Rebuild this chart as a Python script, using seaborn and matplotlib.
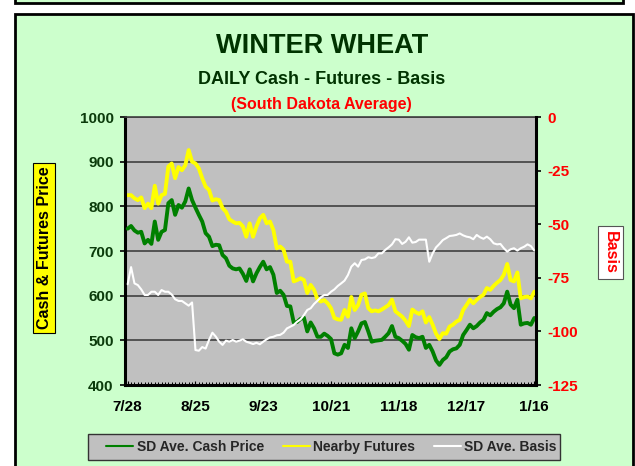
import numpy as np
import pandas as pd
import seaborn as sns
import matplotlib.pyplot as plt
from matplotlib.patches import Rectangle
from matplotlib.ticker import MultipleLocator

# Daily values (7/28 .. 1/16, trading days)
date_labels = ['7/28', '8/25', '9/23', '10/21', '11/18', '12/17', '1/16']

cash_price = [
    750, 756, 746, 741, 743, 717, 725, 716, 766, 725,
    743, 747, 807, 814, 781, 803, 797, 811, 840, 814,
    797, 781, 766, 740, 732, 711, 714, 713, 691, 684,
    667, 661, 659, 661, 649, 633, 659, 632, 650, 664,
    676, 659, 664, 647, 606, 611, 602, 577, 576, 540,
    541, 548, 551, 520, 540, 527, 508, 508, 515, 510,
    503, 471, 468, 471, 490, 483, 527, 505, 520, 538,
    541, 520, 497, 499, 500, 501, 508, 516, 532, 508,
    505, 499, 492, 479, 512, 507, 505, 508, 483, 490,
    475, 455, 445, 456, 462, 475, 480, 482, 490, 512,
    523, 535, 527, 532, 540, 546, 561, 556, 564, 570,
    574, 583, 609, 580, 572, 591, 535, 538, 539, 535,
    550,
]

nearby_futures = [
    825, 825, 818, 814, 820, 796, 806, 796, 846, 806,
    825, 828, 889, 896, 863, 888, 881, 892, 926, 900,
    896, 885, 863, 844, 837, 813, 816, 814, 796, 788,
    771, 766, 762, 763, 755, 732, 762, 732, 755, 773,
    781, 762, 766, 747, 706, 710, 703, 676, 676, 632,
    635, 639, 635, 606, 624, 613, 592, 587, 590, 583,
    572, 550, 547, 546, 568, 553, 597, 568, 579, 602,
    605, 572, 565, 567, 565, 569, 574, 579, 591, 565,
    559, 553, 544, 532, 569, 563, 559, 565, 540, 552,
    535, 515, 503, 516, 515, 531, 535, 542, 546, 568,
    579, 591, 583, 591, 597, 602, 617, 613, 622, 629,
    635, 647, 671, 635, 632, 652, 594, 597, 598, 594,
    609,
]

sd_basis = [
    -78, -70, -77.6, -78.4, -80.4, -83, -83, -81.5, -81.5, -83,
    -80.7, -81.5, -81.5, -82.8, -85, -85.8, -85.8, -86.9, -88, -86.5,
    -108.7, -109, -107.3, -108, -104, -100.6, -102.4, -104.8, -106.3, -104.3,
    -104.8, -104, -104.8, -104.3, -103.7, -104.8, -105.3, -105.9, -105.3, -106,
    -104.8, -103.7, -102.8, -102.5, -101.8, -101.6, -100.6, -98.6, -97.8, -97,
    -95.5, -94.4, -92.4, -90, -89.2, -87.2, -85.7, -84.1, -83, -83,
    -81.5, -80.4, -78.8, -77.6, -76.3, -73.7, -69.8, -68.2, -69.8, -66.7,
    -66.4, -65.4, -65.8, -65.4, -63.6, -63.6, -62, -60.8, -59.4, -57,
    -57.2, -59.2, -58.2, -56.1, -58.6, -58.3, -57.2, -57.2, -57.2, -67.5,
    -63.6, -60.8, -59.2, -57.4, -56.5, -55.5, -55.3, -55, -54.3, -55.2,
    -55.8, -56.1, -57, -55, -56.1, -56.8, -55.8, -57, -58.9, -59.4,
    -59.2, -61.2, -62.8, -61.7, -61.2, -62.3, -61.2, -60.5, -59.4, -60.2,
    -62.3,
]

df = pd.DataFrame({
    'day': np.arange(len(cash_price)),
    'cash': cash_price,
    'futures': nearby_futures,
    'basis': sd_basis,
})

sns.set_style('ticks')
plt.rcParams['font.family'] = ['Liberation Sans', 'DejaVu Sans']
plt.rcParams['font.weight'] = 'bold'
plt.rcParams['axes.unicode_minus'] = False

dark_green = '#0B3B0B'

fig = plt.figure(figsize=(6.35, 4.66), dpi=100)
fig.patch.set_facecolor('white')

# outer chart boxes (Excel chart area look)
fig.add_artist(Rectangle((0.0236, 0.9925), 0.9575, 0.05, transform=fig.transFigure,
                         facecolor='#CCFFCC', edgecolor='black', lw=2, zorder=0))
fig.add_artist(Rectangle((0.0236, -0.05), 0.9733, 1.02, transform=fig.transFigure,
                         facecolor='#CCFFCC', edgecolor='black', lw=2, zorder=0))

ax = fig.add_axes([0.1976, 0.1738, 0.6465, 0.5751])
ax.set_facecolor('#C0C0C0')
ax2 = ax.twinx()
ax2.patch.set_visible(False)

sns.lineplot(data=df, x='day', y='cash', ax=ax, color='#008000', lw=2.8,
             label='SD Ave. Cash Price', legend=False, zorder=3)
sns.lineplot(data=df, x='day', y='futures', ax=ax, color='#FFFF00', lw=2.8,
             label='Nearby Futures', legend=False, zorder=2)
sns.lineplot(data=df, x='day', y='basis', ax=ax2, color='white', lw=1.5,
             label='SD Ave. Basis', legend=False)

ax.set_xlim(-0.65, 120.5)
ax.set_ylim(400, 1000)
ax2.set_ylim(-125, 0)
ax.set_xlabel('')
ax.set_ylabel('')
ax2.set_ylabel('')

ax.set_xticks(range(0, 121, 20))
ax.set_xticklabels(date_labels)
ax.xaxis.set_minor_locator(MultipleLocator(1))
ax.set_yticks(range(400, 1001, 100))
ax2.set_yticks(range(-125, 1, 25))

ax.grid(axis='y', color='#404040', lw=1.2)
ax.grid(axis='x', visible=False)
ax.set_axisbelow(True)

for s in ['left', 'bottom']:
    ax.spines[s].set_color('black')
    ax.spines[s].set_linewidth(2.2)
ax.spines['right'].set_visible(False)
ax.spines['top'].set_color('#404040')
ax.spines['top'].set_linewidth(1.2)
ax2.spines['right'].set_color('black')
ax2.spines['right'].set_linewidth(2.2)
for s in ['left', 'top', 'bottom']:
    ax2.spines[s].set_visible(False)

ax.tick_params(axis='y', direction='out', length=3.5, width=1.2, color='black',
               pad=5, labelsize=11, labelcolor=dark_green)
ax.tick_params(axis='x', which='major', direction='in', length=3, width=0.8,
               color='black', pad=11, labelsize=11, labelcolor='black')
ax.tick_params(axis='x', which='minor', direction='in', length=2.5, width=0.7,
               color='black')
ax2.tick_params(axis='y', direction='out', length=3.5, width=1.2, color='black',
                pad=5, labelsize=11, labelcolor='red')

# titles
fig.text(0.507, 1 - 52.6 / 466, 'WINTER WHEAT', ha='center', va='baseline',
         fontsize=19.5, color='#003300', fontweight='bold')
fig.text(0.507, 1 - 84 / 466, 'DAILY Cash - Futures - Basis', ha='center',
         va='baseline', fontsize=13, color='#003300', fontweight='bold')
fig.text(0.506, 1 - 108.5 / 466, '(South Dakota Average)', ha='center',
         va='baseline', fontsize=11.5, color='red', fontweight='bold')

# axis titles in boxes
fig.text(0.0693, 1 - 248 / 466, 'Cash & Futures Price', rotation=90,
         ha='center', va='center', fontsize=11.5, color='black',
         bbox=dict(boxstyle='square,pad=0.25', facecolor='#FFFF00',
                   edgecolor='black', lw=0.8))
fig.text(0.9614, 1 - 252.5 / 466, 'Basis', rotation=270,
         ha='center', va='center', fontsize=11.5, color='red',
         bbox=dict(boxstyle='square,pad=0.3', facecolor='white',
                   edgecolor='#555555', lw=0.8))

# legend box + entries
fig.add_artist(Rectangle((88 / 635, 1 - 460 / 466), 472 / 635, 26 / 466,
                         transform=fig.transFigure, facecolor='#C0C0C0',
                         edgecolor='#333333', lw=1, zorder=1))
h1, l1 = ax.get_legend_handles_labels()
h2, l2 = ax2.get_legend_handles_labels()
leg = fig.legend(h1 + h2, l1 + l2, loc='center', bbox_to_anchor=(0.522, 1 - 447 / 466),
                 ncol=3, frameon=False, fontsize=10, handlelength=1.95,
                 handletextpad=0.25, columnspacing=1.35)
for lh in leg.legend_handles:
    lh.set_linewidth(1.5)

fig.savefig('out.png', dpi=100)
